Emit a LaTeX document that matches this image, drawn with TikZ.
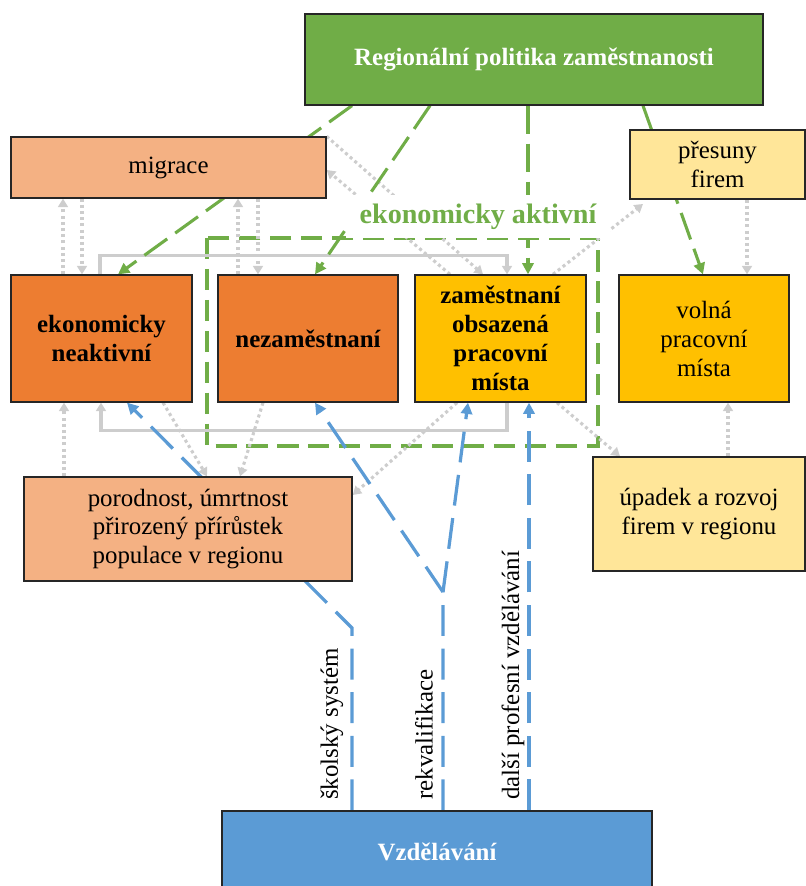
\documentclass[tikz,border=0pt]{standalone}
\usepackage{fontspec}
\setmainfont{Liberation Serif}
\usetikzlibrary{arrows.meta,backgrounds}

\definecolor{polgreen}{HTML}{70AD47}
\definecolor{edublue}{HTML}{5B9BD5}
\definecolor{darkorange}{HTML}{ED7D31}
\definecolor{lightorange}{HTML}{F4B183}
\definecolor{gold}{HTML}{FFC000}
\definecolor{lightgold}{HTML}{FFE699}
\definecolor{linkgray}{HTML}{CDCDCD}

\tikzset{
  box/.style={draw=black!85, line width=0.9pt, inner sep=0pt, align=center,
    font=\fontsize{17.7}{20.6}\selectfont},
  bold/.style={font=\fontsize{17.7}{20.6}\selectfont\bfseries},
  edulabel/.style={inner sep=0pt, rotate=90, anchor=west,
    font=\fontsize{17.7}{20.6}\selectfont},
  flow/.style={linkgray, line width=2.2pt, dash pattern=on 2.2pt off 2.2pt,
    -{Triangle[length=6pt,width=7pt]}},
  cycleline/.style={linkgray, line width=2.2pt, -{Triangle[length=6pt,width=7pt]}},
  policyarrow/.style={polgreen, line width=2.2pt, dash pattern=on 20pt off 7pt,
    -{Triangle[length=8pt,width=8pt]}},
  activebox/.style={polgreen, line width=2.8pt, dash pattern=on 15pt off 7pt},
  eduarrow/.style={edublue, line width=2.3pt, dash pattern=on 22pt off 9pt,
    -{Triangle[length=8pt,width=8pt]}}
}

\begin{document}
\begin{tikzpicture}[x=0.025cm, y=-0.025cm]
  \useasboundingbox (0,0) rectangle (806,886);

  % boxes
  \node[box, bold, fill=polgreen, text=white, minimum width=11.45cm, minimum height=2.275cm] (politika) at (534,59.5) {Regionální politika zaměstnanosti};
  \node[box, fill=lightorange, minimum width=7.875cm, minimum height=1.525cm] (migrace) at (168.5,167.5) {migrace};
  \node[box, fill=lightgold, minimum width=4.375cm, minimum height=1.725cm] (presuny) at (717.5,164.5) {přesuny\\firem};
  \node[box, bold, fill=darkorange, minimum width=4.525cm, minimum height=3.175cm] (neakt) at (101.5,338.5) {ekonomicky\\neaktivní};
  \node[box, bold, fill=darkorange, minimum width=4.5cm, minimum height=3.175cm] (nezam) at (308,338.5) {nezaměstnaní};
  \node[box, bold, fill=gold, minimum width=4.275cm, minimum height=3.175cm] (zam) at (500.5,338.5) {zaměstnaní\\obsazená\\pracovní\\místa};
  \node[box, fill=gold, minimum width=4.25cm, minimum height=3.175cm] (volna) at (704,338.5) {volná\\pracovní\\místa};
  \node[box, fill=lightorange, minimum width=8.2cm, minimum height=2.6cm] (porod) at (188,529) {porodnost, úmrtnost\\přirozený přírůstek\\populace v regionu};
  \node[box, fill=lightgold, minimum width=5.3cm, minimum height=2.85cm] (upadek) at (699,514) {úpadek a rozvoj\\firem v regionu};
  \node[box, bold, fill=edublue, text=white, minimum width=10.75cm, minimum height=2.05cm] (vzdel) at (437,852) {Vzdělávání};

  \node[font=\fontsize{20}{23}\selectfont\bfseries, text=polgreen, fill=white,
    inner xsep=10pt, inner ysep=6pt, anchor=base] (aktivni) at (478,223) {ekonomicky aktivní};

  % vzdelavani labels
  \node[edulabel] (skolstvi) at (332,800) {školský systém};
  \node[edulabel] (rekval) at (424,800) {rekvalifikace};
  \node[edulabel] (dalsi) at (513,800) {další profesní vzdělávání};

  \coordinate (skolbend) at (352,628);
  \coordinate (fork) at (443,592);

  \begin{scope}[on background layer]
    % ekonomicky aktivni
    \draw[activebox] (207,238) rectangle (598,446);

    % gray dotted links
    \draw[flow] (neakt.north -| 63,0) -- (migrace.south -| 63,0);
    \draw[flow] (migrace.south -| 82,0) -- (neakt.north -| 82,0);
    \draw[flow] (nezam.north -| 238,0) -- (migrace.south -| 238,0);
    \draw[flow] (migrace.south -| 258,0) -- (nezam.north -| 258,0);
    \draw[flow] (migrace.north east) -- (zam.north -| 483,0);
    \draw[flow] (zam.north -| 450,0) -- (migrace.east |- 0,170);
    \draw[flow] (zam.north -| 553,0) -- (643,204);
    \draw[flow] (presuny.south -| 747,0) -- (volna.north -| 747,0);
    \draw[flow] (porod.north -| 64,0) -- (neakt.south -| 64,0);
    \draw[flow] (neakt.south -| 163,0) -- (porod.north -| 207,0);
    \draw[flow] (nezam.south -| 263,0) -- (porod.north -| 240,0);
    \draw[flow] (zam.south -| 457,0) -- (porod.east |- 0,495);
    \draw[flow] (zam.south -| 557,0) -- (upadek.north -| 620,0);
    \draw[flow] (upadek.north -| 728,0) -- (volna.south -| 728,0);

    % gray solid cycle
    \draw[cycleline] (neakt.north -| 100,0) -- ++(0,-19) -| (zam.north -| 507,0);
    \draw[cycleline] (zam.south -| 507,0) -- ++(0,28) -| (neakt.south -| 101,0);

    % politika
    \draw[policyarrow] (politika.south -| 352,0) -- (neakt.north -| 118,0);
    \draw[policyarrow] (politika.south -| 430,0) -- (nezam.north -| 315,0);
    \draw[policyarrow] (politika.south -| 528,0) -- (zam.north -| 528,0);
    \draw[policyarrow] (politika.south -| 643,0) -- (volna.north -| 703,0);

    % vzdelavani
    \draw[eduarrow] (vzdel.north -| skolbend) -- (skolbend) -- (neakt.south -| 127,0);
    \draw[eduarrow] (vzdel.north -| fork) -- (fork) -- (nezam.south -| 315,0);
    \draw[eduarrow] (fork) -- (zam.south -| 468,0);
    \draw[eduarrow] (vzdel.north -| 529,0) -- (zam.south -| 529,0);
  \end{scope}
\end{tikzpicture}
\end{document}
